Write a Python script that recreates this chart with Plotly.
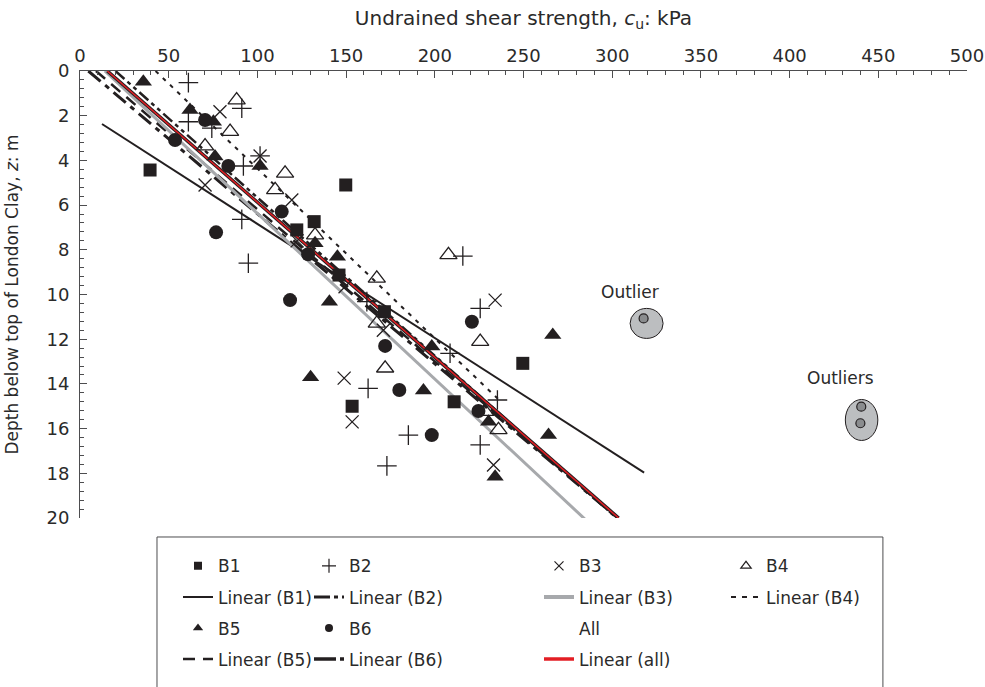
import plotly.graph_objects as go

# ---------------- data ----------------
b1_cu = [39.5, 149.8, 132.0, 122.2, 146.0, 171.6, 249.6, 153.4, 210.9]
b1_z = [4.43, 5.10, 6.74, 7.11, 9.13, 10.77, 13.08, 15.00, 14.80]

b2_cu = [61.1, 91.2, 61.1, 74.3, 92.1, 101.5, 91.2, 94.9, 161.7, 215.8, 225.6,
         208.6, 162.4, 235.3, 185.1, 225.6, 173.0]
b2_z = [0.52, 1.67, 2.27, 2.56, 4.25, 3.80, 6.64, 8.60, 10.32, 8.28, 10.62,
        12.63, 14.20, 14.72, 16.29, 16.73, 17.67]

b3_cu = [78.9, 101.5, 119.4, 70.5, 122.4, 149.4, 171.0, 234.0, 148.9, 153.4, 233.1]
b3_z = [1.82, 3.80, 5.77, 5.10, 7.60, 9.65, 11.60, 10.25, 13.74, 15.70, 17.63]

b4_cu = [88.3, 84.6, 70.5, 115.6, 110.0, 132.5, 167.3, 167.3, 207.7, 225.6, 172.0,
         235.9, 228.4]
b4_z = [1.30, 2.71, 3.36, 4.58, 5.32, 7.34, 9.28, 11.29, 8.23, 12.11, 13.30,
        16.06, 15.24]

b5_cu = [35.7, 62.0, 75.2, 76.1, 101.5, 132.5, 145.1, 140.6, 130.0, 198.3, 193.6,
         230.3, 266.5, 264.1, 234.0]
b5_z = [0.48, 1.74, 2.27, 3.83, 4.25, 7.71, 8.31, 10.32, 13.70, 12.33, 14.30,
        15.69, 11.81, 16.29, 18.15]

b6_cu = [70.5, 53.6, 83.6, 113.7, 76.7, 128.6, 118.4, 172.0, 220.9, 180.0, 224.6,
         198.3]
b6_z = [2.19, 3.09, 4.25, 6.29, 7.22, 8.20, 10.25, 12.30, 11.22, 14.27, 15.21,
        16.29]

# outliers (two groups)
out1_cu = [317.7]
out1_z = [11.07]
out2_cu = [440.4, 439.9]
out2_z = [15.02, 15.76]
out_labels = ["Outlier", "Outliers"]

# linear trend lines (end points)
lin_b1_cu = [12.4, 318.0]
lin_b1_z = [2.37, 17.97]
lin_b2_cu = [20.0, 302.5]
lin_b2_z = [0.0, 20.0]
lin_b3_cu = [14.0, 288.0]
lin_b3_z = [0.0, 20.3]
lin_b4_cu = [42.6, 236.0]
lin_b4_z = [0.0, 14.7]
lin_b5_cu = [9.0, 303.0]
lin_b5_z = [0.0, 20.0]
lin_b6_cu = [4.7, 303.0]
lin_b6_z = [0.0, 20.0]
lin_all_cu = [15.4, 303.6]
lin_all_z = [0.0, 20.0]

x_ticks = [0, 50, 100, 150, 200, 250, 300, 350, 400, 450, 500]
y_ticks = [0, 2, 4, 6, 8, 10, 12, 14, 16, 18, 20]

# ---------------- styles ----------------
INK = "#231f20"
TXT = "#2a2a2a"
FONT = "DejaVu Sans"

fig = go.Figure()

# trend lines
fig.add_trace(go.Scatter(x=lin_b1_cu, y=lin_b1_z, mode="lines", showlegend=False,
                         line=dict(color=INK, width=2)))
fig.add_trace(go.Scatter(x=lin_b4_cu, y=lin_b4_z, mode="lines", showlegend=False,
                         line=dict(color=INK, width=2, dash="4px,6px")))
fig.add_trace(go.Scatter(x=lin_b6_cu, y=lin_b6_z, mode="lines", showlegend=False,
                         line=dict(color=INK, width=3, dash="16px,6px,5px,6px")))
fig.add_trace(go.Scatter(x=lin_b5_cu, y=lin_b5_z, mode="lines", showlegend=False,
                         line=dict(color=INK, width=2.5, dash="12px,8px")))
fig.add_trace(go.Scatter(x=lin_b2_cu, y=lin_b2_z, mode="lines", showlegend=False,
                         line=dict(color=INK, width=2.5, dash="12px,4px,4px,4px,4px,4px")))
fig.add_trace(go.Scatter(x=lin_b3_cu, y=lin_b3_z, mode="lines", showlegend=False,
                         line=dict(color="#a7a9ac", width=3)))
fig.add_trace(go.Scatter(x=lin_all_cu, y=lin_all_z, mode="lines", showlegend=False,
                         line=dict(color=INK, width=3.5)))
fig.add_trace(go.Scatter(x=lin_all_cu, y=lin_all_z, mode="lines", showlegend=False,
                         line=dict(color="#e31e24", width=1.5)))

# data points
def pts(x, y, symbol, size, lw=0):
    return go.Scatter(x=x, y=y, mode="markers", showlegend=False, cliponaxis=False,
                      marker=dict(symbol=symbol, size=size, color=INK,
                                  line=dict(color=INK, width=lw)))

fig.add_trace(pts(b1_cu, b1_z, "square", 13))
fig.add_trace(pts(b2_cu, b2_z, "cross-thin", 14, 1.3))
fig.add_trace(pts(b3_cu, b3_z, "x-thin", 13, 1.3))
fig.add_trace(pts(b4_cu, b4_z, "triangle-up-open", 15, 1.3))
fig.add_trace(pts(b5_cu, b5_z, "triangle-up", 15))
fig.add_trace(pts(b6_cu, b6_z, "circle", 14))

# outliers: grey ellipses + small circles + labels
shapes = []
annotations = []
groups = [(out1_cu, out1_z, (-13.5, 19.5, -20, 10), 26, -14),
          (out2_cu, out2_z, (-15.5, 17, -25.5, 15.5), 37, -20)]
for (cu, z, (px0, px1, py0, py1), lab_dy, lab_dx), label in zip(groups, out_labels):
    cx = sum(cu) / len(cu)
    cz = sum(z) / len(z)
    shapes.append(dict(type="circle", xref="x", yref="y", xsizemode="pixel",
                       ysizemode="pixel", xanchor=cx, yanchor=cz,
                       x0=px0, x1=px1, y0=py0, y1=py1,
                       fillcolor="#bcbec0", line=dict(color=INK, width=1), layer="below"))
    annotations.append(dict(x=cx, y=cz, xref="x", yref="y", text=label, showarrow=False,
                            xshift=lab_dx, yshift=lab_dy,
                            font=dict(family=FONT, size=17, color=TXT)))
fig.add_trace(go.Scatter(x=out1_cu + out2_cu, y=out1_z + out2_z, mode="markers",
                         showlegend=False, cliponaxis=False,
                         marker=dict(symbol="circle", size=9, color="#8a8c8e",
                                     line=dict(color=INK, width=1.2))))

# legend box
shapes.append(dict(type="rect", xref="paper", yref="paper", x0=0.0868, x1=0.9052,
                   y0=-0.45, y1=-0.0425, line=dict(color="#4d4d4f", width=1),
                   fillcolor="rgba(0,0,0,0)", layer="above"))

# ---------------- legend (4 columns, legend-only traces) ----------------
def leg_marker(name, legend, symbol, size, lw=0, color=INK):
    return go.Scatter(x=[None], y=[None], mode="markers", name=name, legend=legend,
                      legendgroup=name,
                      marker=dict(symbol=symbol, size=size, color=color,
                                  line=dict(color=color, width=lw)))

def leg_line(name, legend, color, width, dash="solid"):
    return go.Scatter(x=[None], y=[None], mode="lines", name=name, legend=legend,
                      legendgroup=name, line=dict(color=color, width=width, dash=dash))

fig.add_trace(leg_marker("B1", "legend", "square", 8))
fig.add_trace(leg_line("Linear (B1)", "legend", INK, 2))
fig.add_trace(leg_marker("B5", "legend", "triangle-up", 9))
fig.add_trace(leg_line("Linear (B5)", "legend", INK, 2.5, "12px,8px"))

fig.add_trace(leg_marker("B2", "legend2", "cross-thin", 10, 1.2))
fig.add_trace(leg_line("Linear (B2)", "legend2", INK, 3, "16px,4px,4px,4px,4px,4px"))
fig.add_trace(leg_marker("B6", "legend2", "circle", 8))
fig.add_trace(leg_line("Linear (B6)", "legend2", INK, 3.5, "22px,4px,6px,4px"))

fig.add_trace(leg_marker("B3", "legend3", "x-thin", 9, 1.2))
fig.add_trace(leg_line("Linear (B3)", "legend3", "#a7a9ac", 4))
fig.add_trace(leg_marker("All", "legend3", "circle", 1, 0, "rgba(0,0,0,0)"))
fig.add_trace(leg_line("Linear (all)", "legend3", "#e31e24", 3.5))

fig.add_trace(leg_marker("B4", "legend4", "triangle-up-open", 9, 1.2))
fig.add_trace(leg_line("Linear (B4)", "legend4", INK, 2, "5px,6px"))

def legend_at(text_px):
    return dict(x=(text_px - 41 - 80) / 887, y=-0.0677, xanchor="left", yanchor="top",
                orientation="v", traceorder="grouped", tracegroupgap=6,
                bgcolor="rgba(0,0,0,0)", borderwidth=0,
                font=dict(family=FONT, size=17, color=TXT))

fig.update_layout(
    width=985, height=687,
    margin=dict(l=80, r=18, t=71, b=169, autoexpand=False),
    paper_bgcolor="white", plot_bgcolor="white",
    font=dict(family=FONT, color=TXT),
    showlegend=True,
    legend=legend_at(219),
    legend2=legend_at(350),
    legend3=legend_at(580),
    legend4=legend_at(767),
    shapes=shapes,
    annotations=annotations,
    xaxis=dict(
        side="top", range=[0, 500], tickvals=x_ticks, ticks="inside", ticklen=7,
        tickcolor="#4d4d4f", tickwidth=1, showline=True, linecolor="#4d4d4f",
        linewidth=1, showgrid=False, zeroline=False, ticklabelstandoff=1,
        automargin=False,
        minor=dict(dtick=10, ticks="inside", ticklen=4, tickcolor="#4d4d4f", showgrid=False),
        tickfont=dict(family=FONT, size=18, color=TXT),
        title=dict(text="Undrained shear strength, <i>c</i><sub>u</sub>: kPa",
                   font=dict(family=FONT, size=20, color=TXT), standoff=13),
    ),
    yaxis=dict(
        range=[20, 0], tickvals=y_ticks, ticks="inside", ticklen=7,
        tickcolor="#4d4d4f", tickwidth=1, showline=True, linecolor="#4d4d4f",
        linewidth=1, showgrid=False, zeroline=False, ticklabelstandoff=6,
        automargin=False,
        minor=dict(dtick=0.4, ticks="inside", ticklen=4, tickcolor="#4d4d4f", showgrid=False),
        tickfont=dict(family=FONT, size=18, color=TXT),
        title=dict(text="Depth below top of London Clay, <i>z</i>: m",
                   font=dict(family=FONT, size=17, color=TXT), standoff=23),
    ),
)

fig.write_html("out.html", config={"displayModeBar": False},
               post_script="document.body.style.margin='0';")
